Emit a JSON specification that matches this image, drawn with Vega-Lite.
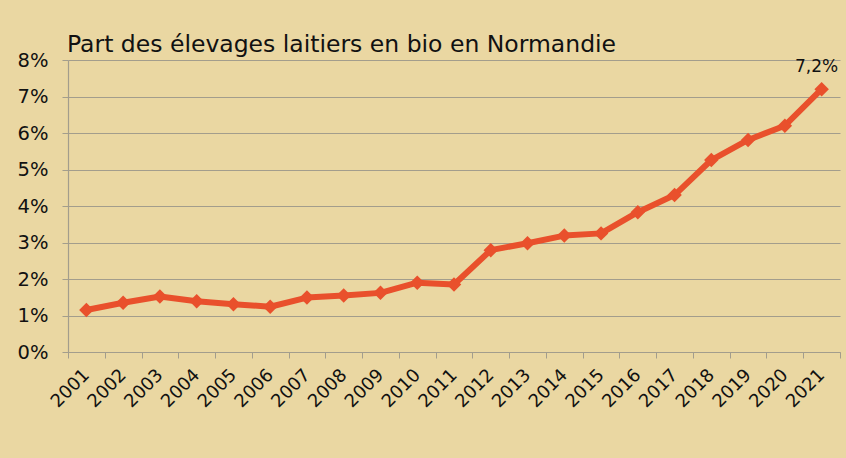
{
  "$schema": "https://vega.github.io/schema/vega-lite/v6.json",
  "width": 772,
  "height": 292,
  "autosize": {"type": "none"},
  "padding": {"left": 68, "top": 60, "right": 6, "bottom": 106},
  "background": "#ead7a2",
  "title": {
    "text": "Part des élevages laitiers en bio en Normandie",
    "anchor": "start",
    "frame": "group",
    "font": "DejaVu Sans",
    "fontSize": 23.5,
    "fontWeight": "normal",
    "color": "#111111",
    "baseline": "alphabetic",
    "offset": -25,
    "dx": -1
  },
  "config": {
    "view": {"stroke": null},
    "font": "DejaVu Sans"
  },
  "data": {
    "values": [
      {"annee": "2001", "part": 1.15},
      {"annee": "2002", "part": 1.35},
      {"annee": "2003", "part": 1.52},
      {"annee": "2004", "part": 1.39},
      {"annee": "2005", "part": 1.31},
      {"annee": "2006", "part": 1.24},
      {"annee": "2007", "part": 1.49},
      {"annee": "2008", "part": 1.55},
      {"annee": "2009", "part": 1.62},
      {"annee": "2010", "part": 1.9},
      {"annee": "2011", "part": 1.85},
      {"annee": "2012", "part": 2.79},
      {"annee": "2013", "part": 2.98},
      {"annee": "2014", "part": 3.19},
      {"annee": "2015", "part": 3.25},
      {"annee": "2016", "part": 3.83},
      {"annee": "2017", "part": 4.3},
      {"annee": "2018", "part": 5.26},
      {"annee": "2019", "part": 5.81},
      {"annee": "2020", "part": 6.2},
      {"annee": "2021", "part": 7.2}
    ]
  },
  "encoding": {
    "x": {
      "field": "annee",
      "type": "ordinal",
      "scale": {"type": "band", "paddingInner": 0, "paddingOuter": 0},
      "axis": {
        "title": null,
        "labelAngle": -45,
        "labelAlign": "right",
        "labelBaseline": "middle",
        "labelFontSize": 18,
        "labelColor": "#111111",
        "labelPadding": 14,
        "tickBand": "extent",
        "tickColor": "#a39d8c",
        "tickSize": 6,
        "domainColor": "#a39d8c",
        "domainWidth": 1.2,
        "grid": false
      }
    },
    "y": {
      "field": "part",
      "type": "quantitative",
      "scale": {"domain": [0, 8], "nice": false},
      "axis": {
        "title": null,
        "values": [0, 1, 2, 3, 4, 5, 6, 7, 8],
        "labelExpr": "datum.value + '%'",
        "labelFontSize": 19.5,
        "labelColor": "#111111",
        "labelPadding": 14,
        "tickColor": "#a39d8c",
        "tickSize": 6,
        "domainColor": "#a39d8c",
        "domainWidth": 1.2,
        "gridColor": "#a39d8c",
        "gridWidth": 1.2,
        "gridOpacity": 1
      }
    }
  },
  "layer": [
    {
      "mark": {"type": "line", "color": "#e9502c", "strokeWidth": 6, "strokeJoin": "round"}
    },
    {
      "mark": {"type": "point", "shape": "diamond", "filled": true, "color": "#e9502c", "size": 210, "opacity": 1}
    },
    {
      "transform": [{"filter": "datum.annee == '2021'"}],
      "mark": {"type": "text", "fontSize": 17, "color": "#111111", "dy": -13, "dx": -5, "baseline": "bottom"},
      "encoding": {"text": {"value": "7,2%"}}
    }
  ]
}
